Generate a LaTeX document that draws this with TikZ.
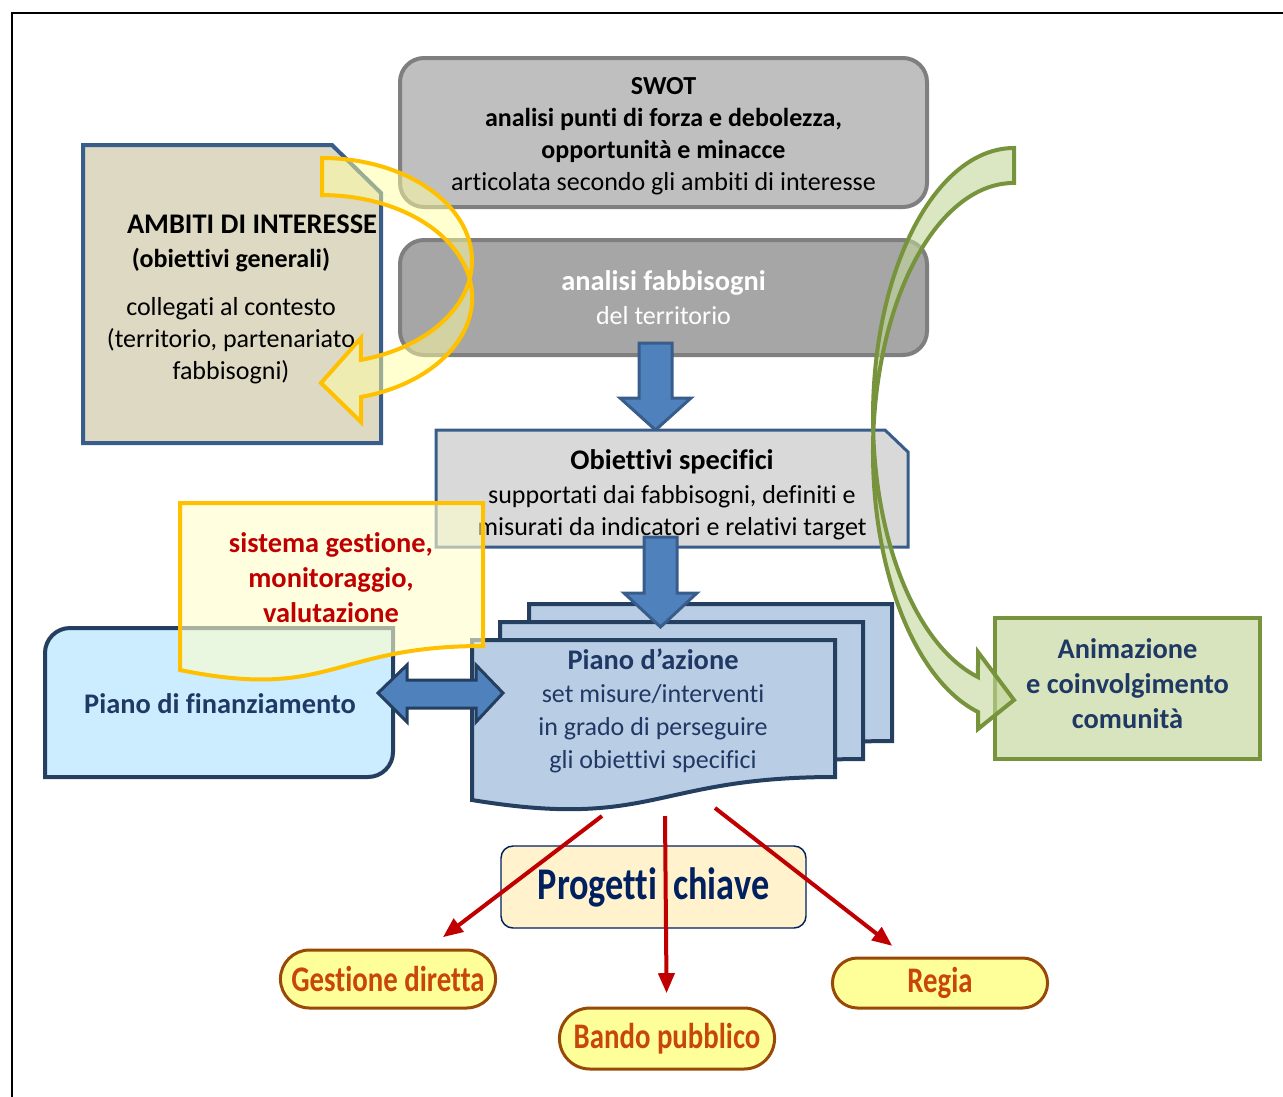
\documentclass[tikz,border=0pt]{standalone}
\usepackage{fontspec}
\setmainfont{Carlito}[Ligatures=NoCommon]
\newfontfamily\narrowfont[FakeStretch=0.8,Ligatures=NoCommon]{Carlito}
\usetikzlibrary{arrows.meta,shapes.misc}

\newcommand{\boxtitle}{\fontsize{21.3}{26.25}\selectfont}
\newcommand{\boxtext}{\fontsize{19.5}{24}\selectfont}

\tikzset{every picture/.style={line width=0.75pt}}
\tikzset{
  grayblock/.style={draw={rgb, 255:red, 127; green, 127; blue, 127}, line width=3pt, rounded corners=18pt, minimum width=395.25pt},
  snipbox/.style={draw={rgb, 255:red, 56; green, 93; blue, 138}, line width=3pt},
  docbox/.style={draw={rgb, 255:red, 36; green, 63; blue, 96}, line width=3pt, fill={rgb, 255:red, 185; green, 205; blue, 229}},
  blockarrow/.style={draw={rgb, 255:red, 56; green, 93; blue, 138}, line width=2.25pt, fill={rgb, 255:red, 79; green, 129; blue, 189}},
  oval/.style={rounded rectangle, draw={rgb, 255:red, 152; green, 72; blue, 7}, line width=2.25pt, fill={rgb, 255:red, 255; green, 255; blue, 153}, minimum width=168pt, text={rgb, 255:red, 200; green, 70; blue, 10}, font=\narrowfont\fontsize{27}{30}\selectfont\bfseries},
  redarrow/.style={draw={rgb, 255:red, 192; green, 0; blue, 0}, line width=3pt, -{Triangle[length=15pt,width=12pt]}}
}

\begin{document}
\begin{tikzpicture}[x=0.75pt,y=0.75pt,yscale=-1,xscale=1]
\useasboundingbox (0,0) rectangle (1283,1097);

%Frame
\draw [line width=1.5pt] (1283,13) -- (12,13) -- (12,1097) ;

% Text Node
\node [grayblock, fill={rgb, 255:red, 191; green, 191; blue, 191}, minimum height=111.75pt] (swot) at (663.5,132.5) {};
\node [align=center, font=\boxtext] (swot-t) at (663.5,136.5) {\textbf{SWOT}\\ \textbf{analisi punti di forza e debolezza,}\\ \textbf{opportunità e minacce}\\ articolata secondo gli ambiti di interesse};
% Text Node
\node [grayblock, fill={rgb, 255:red, 166; green, 166; blue, 166}, minimum height=86.25pt, align=center, font=\boxtext, text=white] (fabb) at (663.5,297.5) {{\boxtitle\bfseries analisi fabbisogni}\\[1pt] del territorio};

% Snip Box
\draw [snipbox, fill={rgb, 255:red, 221; green, 217; blue, 195}] (83,145) -- (332,145) -- (381,193) -- (381,443) -- (83,443) -- cycle ;
\node [align=center, font=\boxtext] (amb) at (231,299) {{\boxtitle\bfseries\hspace*{31.5pt}AMBITI DI INTERESSE}\\[1.5pt] \textbf{(obiettivi generali)}\\[12pt] collegati al contesto\\ (territorio, partenariato\\ fabbisogni)};

% Curved Arrow
\draw [draw={rgb, 255:red, 255; green, 192; blue, 0}, line width=3pt, fill={rgb, 255:red, 255; green, 255; blue, 160}, fill opacity=0.5] (322,158) arc [start angle=-90, end angle=75, x radius=150, y radius=102.7] -- (361,338) -- (321,383) -- (361,422) -- (361,397) arc [start angle=75, end angle=-90, x radius=150, y radius=102.7] -- cycle ;

% Block Arrow
\draw [blockarrow] (639,343) -- (672,343) -- (672,398) -- (691,398) -- (655.5,430) -- (620,398) -- (639,398) -- cycle ;

% Snip Box
\draw [snipbox, line width=2.25pt, fill={rgb, 255:red, 217; green, 217; blue, 217}] (436,430) -- (885,430) -- (908,452) -- (908,547) -- (436,547) -- cycle ;
\node [align=center, font=\boxtext] (obs) at (672,495) {{\boxtitle\bfseries Obiettivi specifici}\\[1.5pt] supportati dai fabbisogni, definiti e\\ misurati da indicatori e relativi target};

% Multi Document
\foreach \dx/\dy in {57/-36, 28/-18, 0/0} {
  \draw [docbox, shift={(\dx,\dy)}] (472,640) -- (835,640) -- (835,777) .. controls (653.5,777) and (653.5,830) .. (472,800) -- cycle ;
}
\node [align=center, font=\boxtext, text={rgb, 255:red, 31; green, 56; blue, 100}] (pda) at (653,711) {{\boxtitle\bfseries Piano d’azione}\\[0.75pt] set misure/interventi\\[0.75pt] in grado di perseguire\\[0.75pt] gli obiettivi specifici};
\coordinate (pda-l) at (602,816);
\coordinate (pda-m) at (665,816);
\coordinate (pda-r) at (715,808);

% Block Arrow
\draw [blockarrow] (644,537) -- (677,537) -- (677,593) -- (697,593) -- (660.5,627) -- (624,593) -- (644,593) -- cycle ;

% Round Diagonal Box
\draw [draw={rgb, 255:red, 36; green, 63; blue, 96}, line width=3pt, fill={rgb, 255:red, 204; green, 236; blue, 255}] (45,777) -- (45,653) arc [start angle=180, end angle=270, radius=25] -- (393,628) -- (393,752) arc [start angle=0, end angle=90, radius=25] -- cycle ;
\node [font=\boxtitle\bfseries, text={rgb, 255:red, 31; green, 56; blue, 100}] (pfin) at (220,704) {Piano di finanziamento};

% Document
\draw [draw={rgb, 255:red, 255; green, 192; blue, 0}, line width=3pt, fill={rgb, 255:red, 255; green, 255; blue, 204}, fill opacity=0.6] (180,503) -- (483,503) -- (483,646) .. controls (331.5,646) and (331.5,701) .. (180,670) -- cycle ;
\node [align=center, font=\boxtitle\bfseries, text={rgb, 255:red, 192; green, 0; blue, 0}] (sgm) at (331,578) {sistema gestione,\\ monitoraggio,\\ valutazione};

% Double Arrow
\draw [blockarrow, draw={rgb, 255:red, 36; green, 63; blue, 96}] (378,693) -- (407,665) -- (407,680) -- (476,680) -- (476,665) -- (503,693) -- (476,722) -- (476,708) -- (407,708) -- (407,722) -- cycle ;

% Text Node
\node [draw={rgb, 255:red, 119; green, 147; blue, 60}, line width=3pt, fill={rgb, 255:red, 215; green, 228; blue, 189}, minimum width=198.75pt, minimum height=105.75pt] (anim) at (1127.5,688.5) {};
\node [align=center, font=\boxtitle\bfseries, text={rgb, 255:red, 31; green, 56; blue, 100}] (anim-t) at (1127.5,683.5) {Animazione\\ e coinvolgimento\\ comunità};

% Curved Arrow
\draw [draw={rgb, 255:red, 119; green, 147; blue, 60}, line width=3pt, fill={rgb, 255:red, 195; green, 214; blue, 155}, fill opacity=0.6] (1014,148) arc [start angle=-90, end angle=-255.2, x radius=141, y radius=269] -- (978,652) -- (1014,700) -- (978,729) -- (978,712) arc [start angle=104.8, end angle=270, x radius=141, y radius=269] -- cycle ;

% Text Node
\node [draw={rgb, 255:red, 0; green, 32; blue, 96}, line width=1.1pt, rounded corners=9pt, fill={rgb, 255:red, 255; green, 242; blue, 204}, minimum width=228.75pt, minimum height=61.5pt, font=\narrowfont\fontsize{34}{40}\selectfont\bfseries, text={rgb, 255:red, 0; green, 32; blue, 96}] (pk) at (653.5,887) {Progetti\hspace{0.35em}chiave};

% Oval Nodes
\node [oval, minimum height=43.5pt] (gest) at (388,979) {Gestione diretta};
\node [oval, minimum height=45.75pt] (bando) at (667,1038.5) {Bando pubblico};
\node [oval, minimum height=37.5pt] (regia) at (940,983) {Regia};

% Connection
\draw [redarrow, shorten >=14pt] (pda-l) -- (gest) ;
% Connection
\draw [redarrow, shorten >=10pt] (pda-m) -- (bando) ;
% Connection
\draw [redarrow, shorten >=13pt] (pda-r) -- (regia) ;

\end{tikzpicture}
\end{document}
